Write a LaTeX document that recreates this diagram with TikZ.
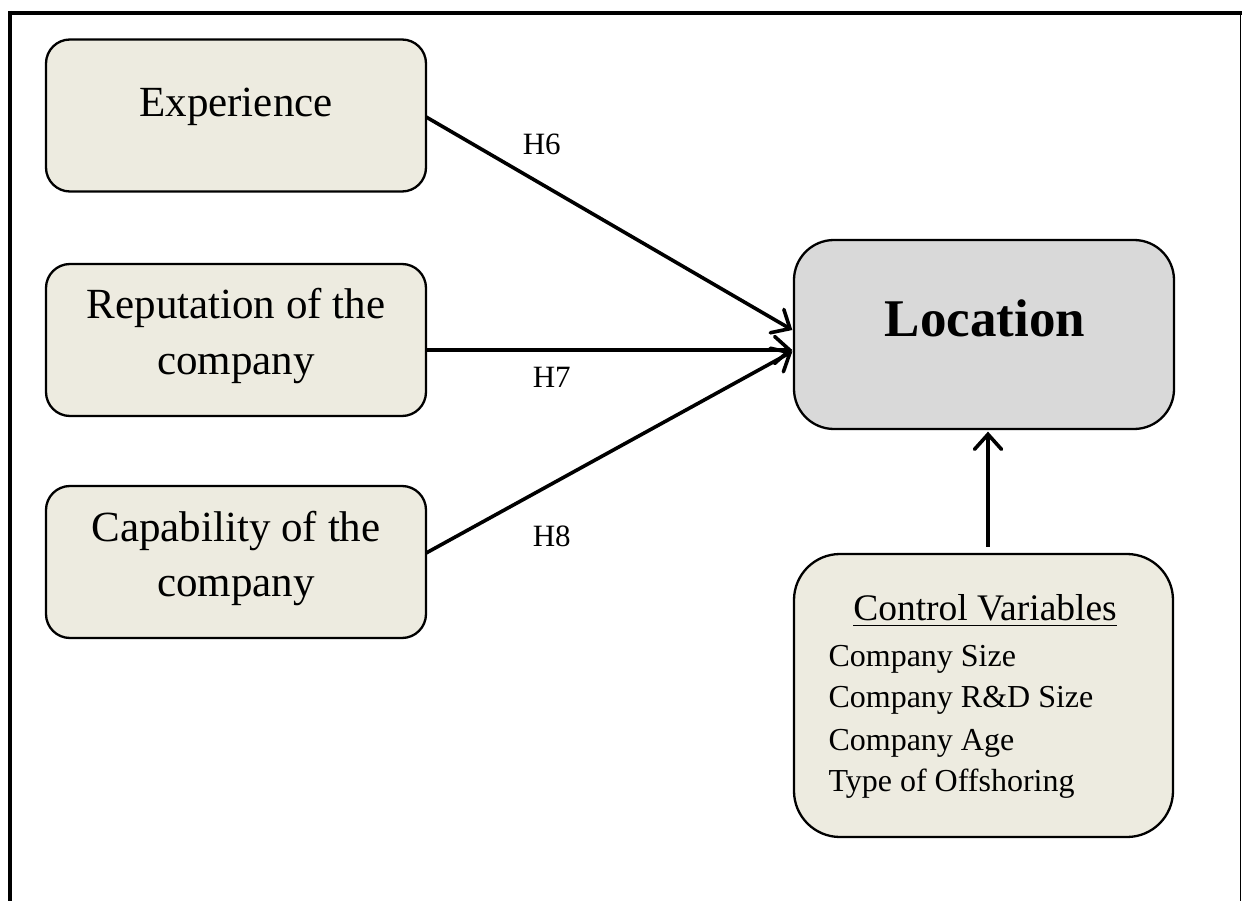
\documentclass[tikz,border=0pt]{standalone}
\usepackage{fontspec}
\setmainfont{Liberation Serif}
\usetikzlibrary{arrows.meta,calc}
\definecolor{boxtan}{HTML}{EDEBE0}
\definecolor{boxgray}{HTML}{D9D9D9}
\begin{document}
\begin{tikzpicture}[x=1pt,y=-1pt,
  factor/.style={draw, line width=2.3pt, fill=boxtan, rounded corners=24pt,
    minimum width=380pt, minimum height=152pt, inner sep=0pt},
  outcome/.style={draw, line width=2.3pt, fill=boxgray, rounded corners=40pt,
    minimum width=380pt, minimum height=189pt, inner sep=0pt},
  ctrlbox/.style={draw, line width=2.3pt, fill=boxtan, rounded corners=46pt,
    minimum width=379pt, minimum height=283pt, inner sep=0pt},
  boxtext/.style={inner sep=0pt, anchor=base, font=\fontsize{43}{55}\selectfont},
  itemtext/.style={inner sep=0pt, anchor=base west, font=\fontsize{32}{42}\selectfont},
  hyp/.style={inner sep=0pt, anchor=base, font=\fontsize{31}{38}\selectfont},
  link/.style={line width=3.6pt, -{Straight Barb[length=15pt,width=27pt,line cap=round]}},
  frameline/.style={line width=4pt}
]
\useasboundingbox (0,0) rectangle (1242,901);

% outer frame (left, top and right sides)
\draw[frameline] (10,11) -- (10,901);
\draw[frameline] (8,13) -- (1242,13);
\draw[line width=1.5pt] (1240.5,13) -- (1240.5,901);

% predictor boxes
\node[factor] (exp) at (236,115.5) {};
\node[boxtext] (expt) at (236,117) {Experience};

\node[factor] (rep) at (236,340) {};
\node[boxtext] (rep1) at (236,319) {Reputation of the};
\node[boxtext] (rep2) at (236,374) {company};

\node[factor] (cap) at (236,562) {};
\node[boxtext] (cap1) at (236,541) {Capability of the};
\node[boxtext] (cap2) at (236,596) {company};

% outcome box
\node[outcome] (loc) at (984,334.5) {};
\node[inner sep=0pt, anchor=base, font=\fontsize{53}{60}\selectfont\bfseries] (loct) at (985,336.7) {Location};

% control variables box
\node[ctrlbox] (ctrl) at (983.5,695.5) {};
\node[inner sep=0pt, anchor=base, font=\fontsize{37.5}{45}\selectfont] (cv) at (985,620) {Control Variables};
\draw[line width=1.6pt] ([yshift=-5.5pt]cv.base west) -- ([yshift=-5.5pt]cv.base east);
\node[itemtext] (cv1) at (828.3,666) {Company Size};
\node[itemtext] (cv2) at (828.3,707.3) {Company R\&D Size};
\node[itemtext] (cv3) at (828.3,750) {Company Age};
\node[itemtext] (cv4) at (828.3,791) {Type of Offshoring};

% hypothesised paths
\draw[link] ($(exp.east)+(-1,1.5)$) -- ($(loc.west)+(-0.5,-4.5)$);
\draw[link] ($(rep.east)+(-1,10)$) -- ($(loc.west)+(-0.5,15.5)$);
\draw[link] ($(cap.east)+(-1,-9)$) -- ($(loc.west)+(-0.5,17)$);
\draw[link, shorten <=6pt] ([xshift=4.5pt]ctrl.north) -- ([xshift=4pt,yshift=-1.5pt]loc.south);

% path labels
\node[hyp] (h6) at (541.7,154.3) {H6};
\node[hyp] (h7) at (551.7,387.3) {H7};
\node[hyp] (h8) at (551.7,546.7) {H8};
\end{tikzpicture}
\end{document}
